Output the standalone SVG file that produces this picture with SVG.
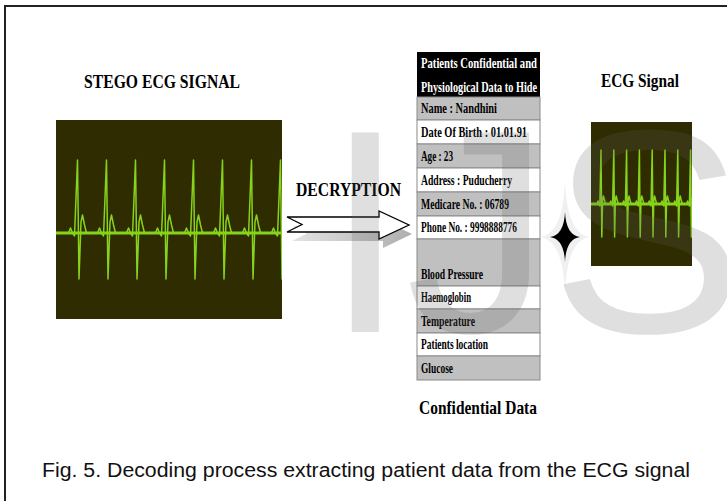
<svg xmlns="http://www.w3.org/2000/svg" xmlns:xlink="http://www.w3.org/1999/xlink" width="727" height="501" viewBox="0 0 727 501">
<style>
.ttl{font-family:"Liberation Serif","Times New Roman",serif;font-weight:bold;font-size:19px;fill:#000}
.row{font-family:"Liberation Serif","Times New Roman",serif;font-weight:bold;font-size:14px;fill:#000}
.hdr{font-family:"Liberation Serif","Times New Roman",serif;font-weight:bold;font-size:14px;fill:#fff}
.gray{fill:#c0c0c0;stroke:#8a8a8a;stroke-width:1}
.white{fill:#fff;stroke:#8a8a8a;stroke-width:1}
.panel{fill:#302c01}
.ecg{fill:none;stroke:#86d31c;stroke-width:1.5;stroke-linejoin:round}
.base{stroke:#86d31c;stroke-width:3}
.cap{font-family:"Liberation Sans",Arial,sans-serif;font-size:19.5px;fill:#111}
</style>
<defs>
<path id="beatL" class="ecg" d="M-14.5,233 L-9,233 L-7,228 L-5,233 L-3,236 L0,160 L1.5,279 L3.5,222 L5,215 L7,225 L9,233 L14.5,233"/>
<path id="beatR" class="ecg" d="M-6.4,204 L-4,204 L-3,201 L-2,204 L-1.2,206 L0,150 L0.8,237 L1.6,200 L2.4,196 L3.4,200 L4.5,204 L6.4,204"/>
<clipPath id="clipL"><rect x="56" y="120" width="226" height="199"/></clipPath>
<clipPath id="clipR"><rect x="591" y="122" width="101" height="144"/></clipPath>
<linearGradient id="shadow" x1="0" y1="0" x2="1" y2="0">
<stop offset="0" stop-color="#dcdcdc"/>
<stop offset="1" stop-color="#9a9a9a"/>
</linearGradient>
</defs>
<rect width="727" height="501" fill="#fff"/>
<path d="M5,501 L5,6 L727,6" fill="none" stroke="#222" stroke-width="2"/>

<g id="stego-title"><text class="ttl" x="84" y="88" textLength="156" lengthAdjust="spacingAndGlyphs">STEGO ECG SIGNAL</text></g>

<g id="ecg-left">
<rect class="panel" x="56" y="120" width="226" height="199"/>
<g clip-path="url(#clipL)">
<line class="base" x1="56" y1="233" x2="282" y2="233"/>
<use xlink:href="#beatL" x="77.5"/>
<use xlink:href="#beatL" x="106.5"/>
<use xlink:href="#beatL" x="135.5"/>
<use xlink:href="#beatL" x="164.5"/>
<use xlink:href="#beatL" x="193.5"/>
<use xlink:href="#beatL" x="222.5"/>
<use xlink:href="#beatL" x="251.5"/>
<use xlink:href="#beatL" x="280.5"/>
</g>
</g>

<g id="connectors">
<path d="M292,226 L383,226 L383,220 L412,234 L383,248 L383,241 L292,241 L307,233.5 Z" fill="url(#shadow)" opacity="0.8"/>
<path d="M287,217 L379,217 L379,211 L409,225 L379,239 L379,232 L287,232 L302,224.5 Z" fill="#fff" stroke="#000" stroke-width="1.3" stroke-linejoin="miter"/>
</g>
<g id="decryption-label"><text class="ttl" x="296" y="196" textLength="105" lengthAdjust="spacingAndGlyphs">DECRYPTION</text></g>

<g id="data-table">
<rect x="417" y="52" width="123" height="45" fill="#000"/>
<text class="hdr" x="421" y="68" textLength="116" lengthAdjust="spacingAndGlyphs">Patients Confidential and</text>
<text class="hdr" x="421" y="92" textLength="116" lengthAdjust="spacingAndGlyphs">Physiological Data to Hide</text>
<rect class="gray" x="417" y="97" width="123" height="23"/>
<rect class="white" x="417" y="120" width="123" height="24"/>
<rect class="gray" x="417" y="144" width="123" height="24"/>
<rect class="white" x="417" y="168" width="123" height="24"/>
<rect class="gray" x="417" y="192" width="123" height="24"/>
<rect class="white" x="417" y="216" width="123" height="23"/>
<rect class="gray" x="417" y="239" width="123" height="47"/>
<rect class="white" x="417" y="286" width="123" height="23"/>
<rect class="gray" x="417" y="309" width="123" height="24"/>
<rect class="white" x="417" y="333" width="123" height="23"/>
<rect class="gray" x="417" y="356" width="123" height="24"/>
<text class="row" x="421" y="113" textLength="76" lengthAdjust="spacingAndGlyphs">Name : Nandhini</text>
<text class="row" x="421" y="137" textLength="106" lengthAdjust="spacingAndGlyphs">Date Of Birth  : 01.01.91</text>
<text class="row" x="421" y="161" textLength="32" lengthAdjust="spacingAndGlyphs">Age : 23</text>
<text class="row" x="421" y="185" textLength="91" lengthAdjust="spacingAndGlyphs">Address : Puducherry</text>
<text class="row" x="421" y="209" textLength="88" lengthAdjust="spacingAndGlyphs">Medicare No. : 06789</text>
<text class="row" x="421" y="232" textLength="96" lengthAdjust="spacingAndGlyphs">Phone No. : 9998888776</text>
<text class="row" x="421" y="279" textLength="62" lengthAdjust="spacingAndGlyphs">Blood Pressure</text>
<text class="row" x="421" y="302" textLength="50" lengthAdjust="spacingAndGlyphs">Haemoglobin</text>
<text class="row" x="421" y="326" textLength="54" lengthAdjust="spacingAndGlyphs">Temperature</text>
<text class="row" x="421" y="349" textLength="67" lengthAdjust="spacingAndGlyphs">Patients location</text>
<text class="row" x="421" y="373" textLength="32" lengthAdjust="spacingAndGlyphs">Glucose</text>
<text class="ttl" x="419" y="414" textLength="118" lengthAdjust="spacingAndGlyphs">Confidential Data</text>
</g>

<g id="ecg-title"><text class="ttl" x="601" y="87" textLength="78" lengthAdjust="spacingAndGlyphs">ECG Signal</text></g>

<g id="star">
<path d="M565,177 Q566,234 590,237 Q566,240 565,297 Q564,240 540,237 Q564,234 565,177 Z" fill="#f0f0f0"/>
<path d="M565,212 Q566,235 580,237 Q566,239 565,262 Q564,239 550,237 Q564,235 565,212 Z" fill="#000"/>
</g>

<g id="ecg-right">
<rect class="panel" x="591" y="122" width="101" height="144"/>
<g clip-path="url(#clipR)">
<line class="base" x1="591" y1="204" x2="692" y2="204" stroke-width="2.5"/>
<use xlink:href="#beatR" x="601"/>
<use xlink:href="#beatR" x="613.8"/>
<use xlink:href="#beatR" x="626.6"/>
<use xlink:href="#beatR" x="639.4"/>
<use xlink:href="#beatR" x="652.2"/>
<use xlink:href="#beatR" x="665"/>
<use xlink:href="#beatR" x="677.8"/>
<use xlink:href="#beatR" x="690.6"/>
</g>
</g>

<g id="watermark"><text x="325" y="332" font-family="Liberation Sans, Arial, sans-serif" font-size="290" fill="#5f5f5f" fill-opacity="0.2">IJS</text></g>

<g id="caption"><text class="cap" x="42" y="477" textLength="648" lengthAdjust="spacingAndGlyphs">Fig. 5. Decoding process extracting patient data from the ECG signal</text></g>
</svg>
